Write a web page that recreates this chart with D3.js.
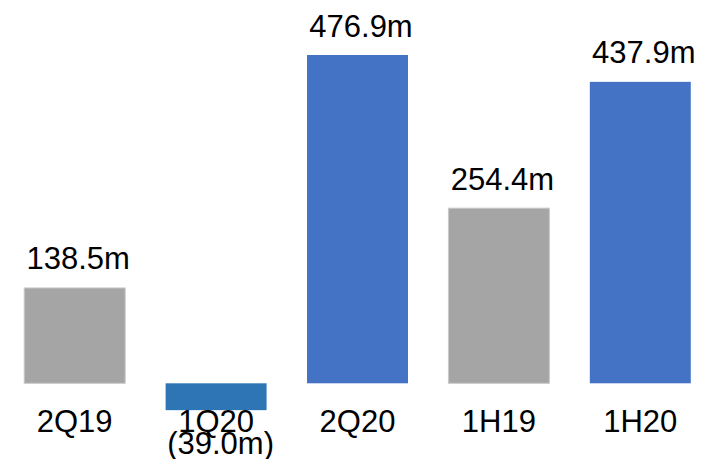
<!DOCTYPE html>
<html>
<head>
<meta charset="utf-8">
<script src="https://cdn.jsdelivr.net/npm/d3@7/dist/d3.min.js"></script>
<style>
  html, body { margin: 0; padding: 0; background: #fff; }
  svg { display: block; }
  text { font-family: "Liberation Sans", Arial, sans-serif; fill: #000; }
</style>
</head>
<body>
<svg id="chart" width="710" height="459"></svg>
<script>
// Net result by period, in millions
const categories = ["2Q19", "1Q20", "2Q20", "1H19", "1H20"];
const values = [138.5, -39.0, 476.9, 254.4, 437.9];
const valueLabels = ["138.5m", "(39.0m)", "476.9m", "254.4m", "437.9m"];
const barColors = ["#A5A5A5", "#2E75B6", "#4472C4", "#A5A5A5", "#4472C4"];

const svg = d3.select("#chart");

const x = d3.scaleBand()
  .domain(categories)
  .range([4, 711])
  .paddingInner(0.286)
  .paddingOuter(0.143);

const y = d3.scaleLinear()
  .domain([0, d3.max(values)])
  .range([383.3, 55]);

const rows = categories.map((c, i) => ({ c, v: values[i], label: valueLabels[i], color: barColors[i] }));

// Bars
svg.append("g").selectAll("rect")
  .data(rows)
  .join("rect")
  .attr("x", d => x(d.c))
  .attr("width", x.bandwidth())
  .attr("y", d => Math.min(y(d.v), y(0)))
  .attr("height", d => Math.abs(y(d.v) - y(0)))
  .attr("fill", d => d.color)
  .attr("stroke", d => d.color === "#A5A5A5" ? "#C9C9C9" : "none")
  .attr("stroke-width", 1);

// Category labels under the baseline
svg.append("g").selectAll("text")
  .data(rows)
  .join("text")
  .attr("x", d => x(d.c) + x.bandwidth() / 2)
  .attr("y", 431.7)
  .attr("text-anchor", "middle")
  .attr("font-size", 31)
  .text(d => d.c);

// Value labels: above positive bars, below the category for negative ones
svg.append("g").selectAll("text")
  .data(rows)
  .join("text")
  .attr("x", d => x(d.c) + x.bandwidth() / 2 + (d.v >= 0 ? 3.5 : 4.5))
  .attr("y", d => d.v >= 0 ? y(d.v) - 18.5 : 453.5)
  .attr("text-anchor", "middle")
  .attr("font-size", 31)
  .text(d => d.label);
</script>
</body>
</html>
